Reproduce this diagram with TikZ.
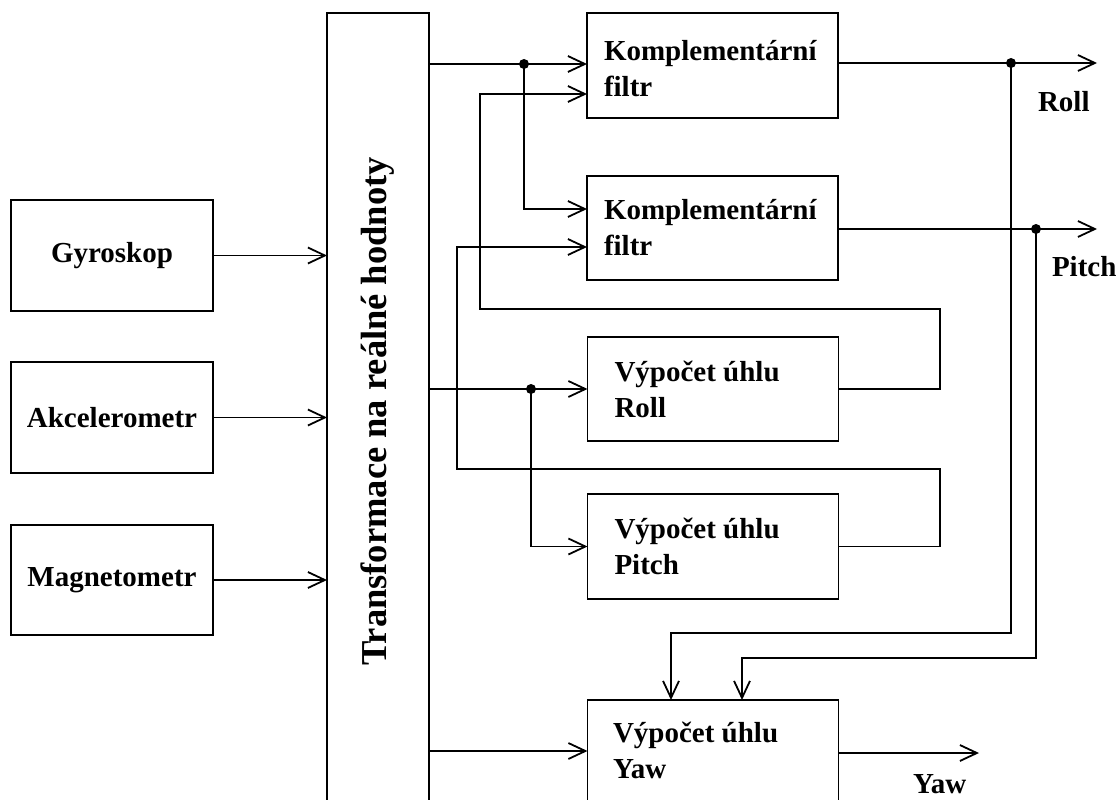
\documentclass[tikz,border=0pt]{standalone}
\usepackage{fontspec}
\setmainfont{Liberation Serif}
\usetikzlibrary{arrows.meta}
\begin{document}
\begin{tikzpicture}[x=1pt,y=-1pt,
  every node/.style={inner sep=0pt,outer sep=0pt},
  blok/.style={draw,line width=1.8pt,minimum width=251pt,rectangle},
  senzor/.style={blok,minimum width=202pt,minimum height=111pt,
    font=\fontsize{29}{36}\selectfont\bfseries},
  popis/.style={anchor=west,align=left,font=\fontsize{29}{36}\selectfont\bfseries},
  vystup/.style={anchor=base west,font=\fontsize{29}{36}\selectfont\bfseries},
  sipka/.style={line width=1.8pt,-{Straight Barb[length=17pt,width=16pt,line width=1.8pt]}},
  bod/.style={circle,fill=black,minimum size=10pt}]
\clip (0,0) rectangle (1116,800);
\fill[white] (0,0) rectangle (1116,800);

% sensors
\node[senzor] (gyro) at (112,255.5) {Gyroskop};
\node[senzor] (acc)  at (112,417.5) {Akcelerometr};
\node[senzor,minimum height=110pt] (mag) at (112,580) {Magnetometr};

% conversion block (runs past the lower edge)
\node[blok,minimum width=102pt,minimum height=888pt] (trans) at (378,457) {};
\node[rotate=90,anchor=base,font=\fontsize{36.5}{40}\selectfont\bfseries] (translabel)
  at (386,411.5) {Transformace na reálné hodnoty};

% processing blocks
\node[blok,minimum height=105pt] (kf1) at (712.5,65.5) {};
\node[popis] (kf1t) at ([xshift=17pt,yshift=-3pt]kf1.west) {Komplementární\\filtr};
\node[blok,minimum height=104pt] (kf2) at (712.5,228) {};
\node[popis] (kf2t) at ([xshift=17pt]kf2.west) {Komplementární\\filtr};
\node[blok,minimum height=104pt] (roll) at (713,389) {};
\node[popis] (rollt) at ([xshift=27pt]roll.west) {Výpočet úhlu\\Roll};
\node[blok,minimum height=105pt] (pitch) at (713,546.5) {};
\node[popis] (pitcht) at ([xshift=27pt]pitch.west) {Výpočet úhlu\\Pitch};
\node[blok,minimum height=130pt] (yaw) at (713,765) {};
\node[popis,anchor=base west] (yawt) at (613,778) {Výpočet úhlu\\Yaw};

% output labels
\node[vystup] (rolll) at (1038,111) {Roll};
\node[vystup] (pitchl) at (1052,276) {Pitch};
\node[vystup] (yawl) at (913,793) {Yaw};

% helper points
\coordinate (j1) at (524,64);
\coordinate (j2) at (531,389);
\coordinate (j3) at (1011,63);
\coordinate (j4) at (1036,229);
\coordinate (k2a) at (0,209);
\coordinate (fb1) at (940,309);
\coordinate (fb1x) at (480,94);
\coordinate (fb2) at (940,469);
\coordinate (fb2x) at (457,247);
\coordinate (ya) at (0,751);
\coordinate (rollout) at (1097,63);
\coordinate (pitchout) at (1097,229);
\coordinate (yawout) at (979,753);
\coordinate (c1) at (1011,633);
\coordinate (c2) at (1036,658);
\coordinate (y1) at (671,0);
\coordinate (y2) at (742,0);

% sensor inputs
\draw[sipka] (gyro.east) -- (gyro.east -| trans.west);
\draw[sipka] (acc.east) -- (acc.east -| trans.west);
\draw[sipka] (mag.east) -- (mag.east -| trans.west);

% converted data to the filters and angle blocks
\draw[sipka] (trans.east |- j1) -- (kf1.west |- j1);
\draw[sipka] (j1) |- (kf2.west |- k2a);
\draw[sipka] (trans.east |- j2) -- (roll.west |- j2);
\draw[sipka] (j2) |- (pitch.west);
\draw[sipka] (trans.east |- ya) -- (yaw.west |- ya);

% feedback of computed angles into the filters
\draw[sipka] (roll.east) -| (fb1) -| (fb1x) -- (kf1.west |- fb1x);
\draw[sipka] (pitch.east) -| (fb2) -| (fb2x) -- (kf2.west |- fb2x);

% filter outputs
\draw[sipka] (kf1.east |- j3) -- (rollout);
\draw[sipka] (kf2.east |- j4) -- (pitchout);
\draw[sipka] (j3) -- (c1) -| (yaw.north -| y1);
\draw[sipka] (j4) -- (c2) -| (yaw.north -| y2);
\draw[sipka] (yaw.east |- yawout) -- (yawout);

% junction dots
\node[bod] (d1) at (j1) {};
\node[bod] (d2) at (j2) {};
\node[bod] (d3) at (j3) {};
\node[bod] (d4) at (j4) {};
\end{tikzpicture}
\end{document}
